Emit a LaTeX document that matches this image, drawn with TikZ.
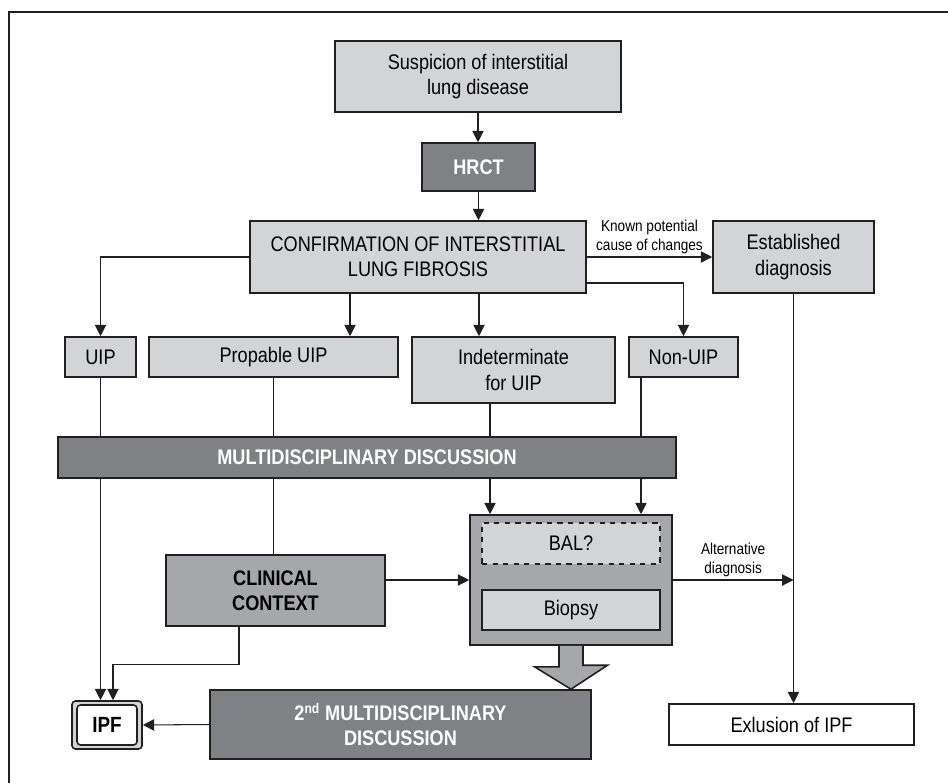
\documentclass[tikz,border=0pt]{standalone}
\usepackage{fontspec}
\setmainfont{Liberation Sans}[FakeStretch=0.86]
\usepackage{xcolor}
\usetikzlibrary{arrows.meta}

\definecolor{grisclaro}{HTML}{D3D4D6}
\definecolor{grismedio}{HTML}{A6A7AA}
\definecolor{grisoscuro}{HTML}{808184}
\definecolor{borde}{HTML}{231F20}

\begin{document}
\begin{tikzpicture}[
    % Estilos de las cajas y de las flechas
    caja/.style={draw=borde, line width=0.9pt, fill=grisclaro, inner sep=2pt,
      align=center, font=\fontsize{12}{14.4}\selectfont},
    cajaoscura/.style={caja, fill=grisoscuro, text=white,
      font=\bfseries\fontsize{12}{14.4}\selectfont},
    cajamedia/.style={caja, fill=grismedio},
    flecha/.style={-{Triangle[width=6.5pt,length=6.5pt]}, line width=0.6pt, draw=borde},
    linea/.style={line width=0.6pt, draw=borde},
    etiqueta/.style={font=\fontsize{9}{10.8}\selectfont, align=center, inner sep=1.5pt},
    bloque/.style={line width=0.9pt, draw=borde, fill=grismedio}
  ]

  \useasboundingbox (0,0) rectangle (18.96,-15.64);

  % 0. Marco exterior
  \draw[line width=0.9pt, draw=borde] (0.18,-15.8) -- (0.18,-0.24) -- (19.2,-0.24);

  % 1. Parte superior
  \node[caja, minimum width=5.72cm, minimum height=1.42cm] (sosp) at (9.56,-1.53) {Suspicion of interstitial\\lung disease};
  \node[cajaoscura, minimum width=2.26cm, minimum height=0.96cm] (hrct) at (9.57,-3.34) {HRCT};
  \node[caja, minimum width=6.72cm, minimum height=1.44cm] (conf) at (8.36,-5.14) {CONFIRMATION OF INTERSTITIAL\\LUNG FIBROSIS};
  \node[caja, minimum width=3.22cm, minimum height=1.44cm] (estab) at (15.87,-5.14) {Established\\diagnosis};

  % 2. Patrones de la TCAR
  \node[caja, minimum width=1.42cm, minimum height=0.8cm] (uip) at (2.01,-7.14) {UIP};
  \node[caja, minimum width=4.98cm, minimum height=0.8cm] (prob) at (5.47,-7.14) {Propable UIP};
  \node[caja, minimum width=4.06cm, minimum height=1.32cm] (indet) at (10.27,-7.40) {Indeterminate\\for UIP};
  \node[caja, minimum width=2.18cm, minimum height=0.8cm] (nouip) at (13.67,-7.14) {Non-UIP};

  % 3. Discusion y estudios
  \node[cajaoscura, minimum width=12.36cm, minimum height=0.82cm] (md) at (7.34,-9.15) {MULTIDISCIPLINARY DISCUSSION};
  \node[cajamedia, minimum width=4.04cm, minimum height=2.6cm] (grupo) at (11.42,-11.6) {};
  \node[caja, dashed, minimum width=3.56cm, minimum height=0.82cm] (bal) at (11.42,-10.87) {BAL?};
  \node[caja, minimum width=3.56cm, minimum height=0.8cm] (biopsia) at (11.42,-12.2) {Biopsy};
  \node[cajamedia, font=\bfseries\fontsize{12}{14.4}\selectfont, minimum width=4.38cm, minimum height=1.42cm] (clin) at (5.51,-11.81) {CLINICAL\\CONTEXT};

  % 4. Parte inferior
  \node[cajaoscura, minimum width=7.62cm, minimum height=1.38cm] (md2) at (8.01,-14.49) {2\textsuperscript{nd} MULTIDISCIPLINARY\\DISCUSSION};
  \node[caja, fill=white, minimum width=4.9cm, minimum height=0.82cm] (excl) at (15.83,-14.49) {Exlusion of IPF};
  \node[caja, rounded corners=2pt, minimum width=1.4cm, minimum height=0.96cm] (ipfmarco) at (2.14,-14.5) {};
  \node[caja, fill=white, rounded corners=2pt, font=\bfseries\fontsize{12.5}{15}\selectfont,
    minimum width=1.2cm, minimum height=0.8cm] (ipf) at (ipfmarco) {IPF};

  % puntos auxiliares
  \coordinate (cprob) at ([xshift=-1.36cm]conf.south);
  \coordinate (cind) at ([xshift=1.22cm]conf.south);
  \coordinate (indsal) at ([xshift=-0.47cm]indet.south);
  \coordinate (nosal) at ([xshift=-0.85cm]nouip.south);
  \coordinate (clsal) at ([xshift=-0.73cm]clin.south);
  \coordinate (ipfent) at ([xshift=0.12cm]ipfmarco.north);
  \coordinate (punta) at (grupo.south |- md2.north);

  % 5. Conexiones
  \draw[flecha] (sosp.south) -- (sosp.south |- hrct.north);
  \draw[flecha] (hrct.south) -- (hrct.south |- conf.north);
  \draw[flecha] (conf.east) -- node[etiqueta, above] {Known potential\\cause of changes} (estab.west);
  \draw[flecha] (conf.west) -| (uip.north);
  \draw[flecha] (cprob) -- (cprob |- prob.north);
  \draw[flecha] (cind) -- (cind |- indet.north);
  \draw[flecha] ([yshift=-0.52cm]conf.east) -| (nouip.north);

  % hacia la discusion
  \draw[linea] (uip.south) -- (uip.south |- md.north);
  \draw[linea] (prob.south) -- (prob.south |- md.north);
  \draw[linea] (indsal) -- (indsal |- md.north);
  \draw[linea] (nosal) -- (nosal |- md.north);

  % desde la discusion
  \draw[flecha] (uip.south |- md.south) -- (uip.south |- ipfmarco.north);
  \draw[linea] (prob.south |- md.south) -- (prob.south |- clin.north);
  \draw[flecha] (indsal |- md.south) -- (indsal |- grupo.north);
  \draw[flecha] (nosal |- md.south) -- (nosal |- grupo.north);

  \draw[flecha] (clin.east |- grupo.west) -- (grupo.west);
  \draw[flecha] (grupo.east) -- node[etiqueta, above] {Alternative\\diagnosis} (grupo.east -| estab.south);
  \draw[flecha] (estab.south) -- (estab.south |- excl.north);
  \draw[flecha] (clsal) -- ++(0,-0.76) -| (ipfent);
  \draw[flecha] (md2.west) -- (ipfmarco.east);

  % flecha gruesa hacia la segunda discusion
  \draw[bloque] ([xshift=-0.24cm]grupo.south) -- ++(0,-0.42) -- ++(-0.49,0) -- (punta)
    -- ++(0.73,0.48) -- ++(-0.49,0) -- ([xshift=0.24cm]grupo.south);

\end{tikzpicture}
\end{document}
